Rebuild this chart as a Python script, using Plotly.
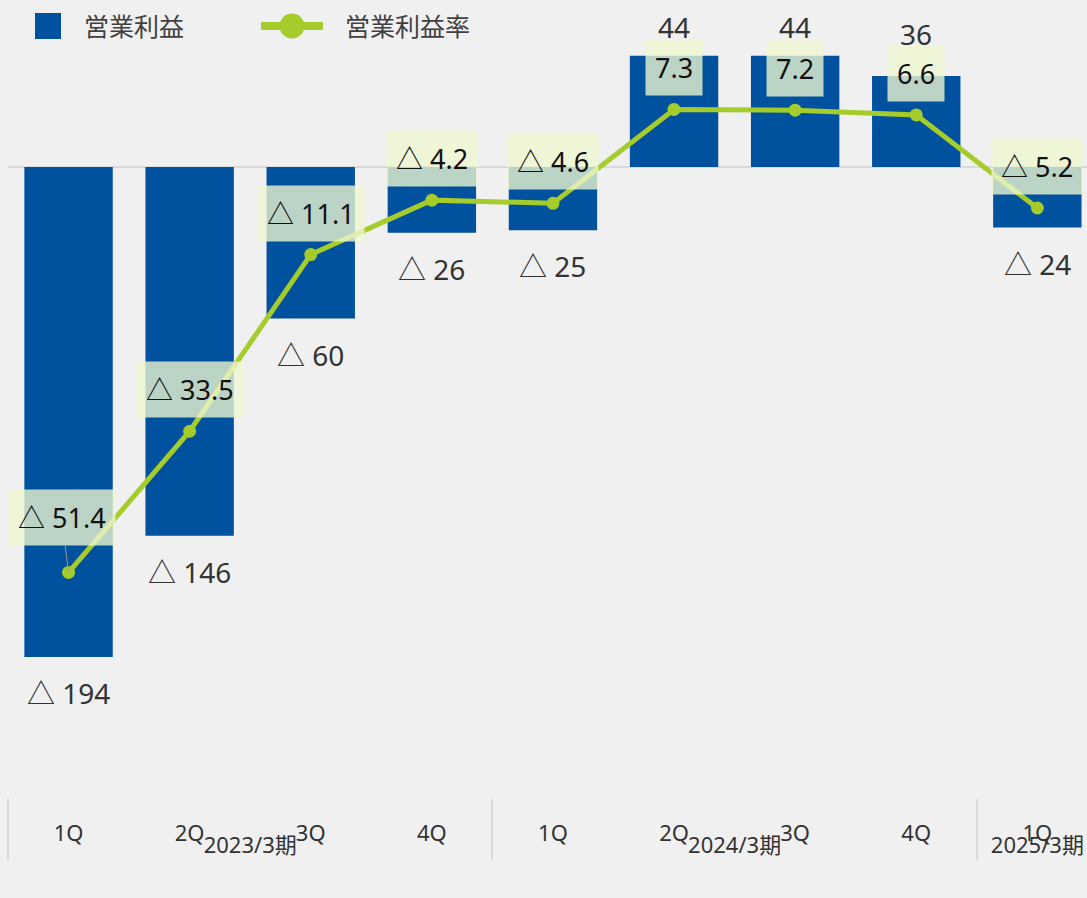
import plotly.graph_objects as go

# ---- data ----
fiscal_years = ["2023/3期"] * 4 + ["2024/3期"] * 4 + ["2025/3期"]
quarters = ["1Q", "2Q", "3Q", "4Q", "1Q", "2Q", "3Q", "4Q", "1Q"]
operating_profit = [-194, -146, -60, -26, -25, 44, 44, 36, -24]
operating_margin = [-51.4, -33.5, -11.1, -4.2, -4.6, 7.3, 7.2, 6.6, -5.2]
series_names = ["営業利益", "営業利益率"]

# ---- styles ----
W, H = 1087, 898
M_L, M_R, M_T, M_B = 8, 0, 10, 100
BAR_COLOR = "#00529e"
LINE_COLOR = "#a5cc2a"
BG = "#f0f0f0"
FONT = "Noto Sans, Noto Sans CJK JP, sans-serif"
LABEL_BG = "rgba(238,247,208,0.79)"
PLOT_W = W - M_L - M_R
PLOT_H = H - M_T - M_B
CAT_W = 121.1
X_RANGE = [-0.5, -0.5 + PLOT_W / CAT_W]
ZERO_PX = 157  # zero line distance from top of plot
Y1_SCALE = 2.526  # px per unit
Y2_SCALE = 7.888
Y1_RANGE = [-(PLOT_H - ZERO_PX) / Y1_SCALE, ZERO_PX / Y1_SCALE]
Y2_RANGE = [-(PLOT_H - ZERO_PX) / Y2_SCALE, ZERO_PX / Y2_SCALE]
VALUE_LABEL_NUDGE = {7: 13}  # extra upward px for crowded labels


def fmt(v):
    return f"△ {abs(v):g}" if v < 0 else f"{v:g}"


def px_x(px):
    return (px - M_L) / PLOT_W


def px_y(py):
    return (H - M_B - py) / PLOT_H


x = [fiscal_years, quarters]

fig = go.Figure()
fig.add_trace(go.Bar(
    x=x, y=operating_profit, name=series_names[0],
    marker=dict(color=BAR_COLOR, line=dict(width=0)),
    width=0.73, yaxis="y", showlegend=False,
    hoverinfo="skip",
))
fig.add_trace(go.Scatter(
    x=x, y=operating_margin, name=series_names[1], yaxis="y2",
    mode="lines+markers",
    line=dict(color=LINE_COLOR, width=5),
    marker=dict(color=LINE_COLOR, size=13),
    showlegend=False, hoverinfo="skip",
))

annotations = []
# bar value labels
for i, v in enumerate(operating_profit):
    annotations.append(dict(
        x=i, y=v, xref="x", yref="y", text=fmt(v), showarrow=False,
        yshift=(-36 if v < 0 else 29 + VALUE_LABEL_NUDGE.get(i, 0)),
        yanchor="middle",
        font=dict(family=FONT, size=28, color="#333333"),
    ))
# margin labels
for i, v in enumerate(operating_margin):
    a = dict(
        x=i, y=v, xref="x", yref="y2", text=fmt(v),
        font=dict(family=FONT, size=27, color="#111111"),
        bgcolor=LABEL_BG, borderpad=9,
    )
    if i == 0:
        a.update(showarrow=True, arrowhead=0, arrowwidth=1, arrowcolor="#999999",
                 ax=-7, ay=-55, standoff=0)
    else:
        a.update(showarrow=False, yanchor="bottom", yshift=13)
    annotations.append(a)

# manual legend
shapes = [
    dict(type="rect", xref="paper", yref="paper",
         x0=px_x(35), x1=px_x(61), y0=px_y(39), y1=px_y(13),
         fillcolor=BAR_COLOR, line=dict(width=0)),
    dict(type="line", xref="paper", yref="paper",
         x0=px_x(261), x1=px_x(323), y0=px_y(26), y1=px_y(26),
         line=dict(color=LINE_COLOR, width=8)),
    dict(type="circle", xref="paper", yref="paper",
         x0=px_x(279.5), x1=px_x(304.5), y0=px_y(38.5), y1=px_y(13.5),
         fillcolor=LINE_COLOR, line=dict(width=0)),
]
annotations.append(dict(xref="paper", yref="paper", x=px_x(82), y=px_y(26),
                        xanchor="left", yanchor="middle", showarrow=False,
                        text=series_names[0],
                        font=dict(family=FONT, size=25, color="#404040")))
annotations.append(dict(xref="paper", yref="paper", x=px_x(343), y=px_y(26),
                        xanchor="left", yanchor="middle", showarrow=False,
                        text=series_names[1],
                        font=dict(family=FONT, size=25, color="#404040")))

fig.update_layout(
    width=W, height=H,
    margin=dict(l=M_L, r=M_R, t=M_T, b=M_B, autoexpand=False),
    paper_bgcolor=BG, plot_bgcolor=BG,
    showlegend=False,
    bargap=0.27,
    font=dict(family=FONT, color="#333333"),
    xaxis=dict(
        type="multicategory", range=X_RANGE,
        showgrid=False, zeroline=False, showline=False,
        ticks="", ticklabelstandoff=20,
        tickfont=dict(family=FONT, size=22, color="#333333"),
        showdividers=True, dividercolor="#d9d9d9", dividerwidth=2,
    ),
    yaxis=dict(range=Y1_RANGE, showgrid=False, showticklabels=False,
               zeroline=True, zerolinecolor="#d9d9d9", zerolinewidth=2,
               showline=False),
    yaxis2=dict(range=Y2_RANGE, overlaying="y", showgrid=False,
                showticklabels=False, zeroline=False, showline=False),
    annotations=annotations,
    shapes=shapes,
)

fig.write_html(
    "out.html",
    config={"displayModeBar": False},
    post_script="document.body.style.margin='0';document.body.style.background='%s';" % BG,
)
